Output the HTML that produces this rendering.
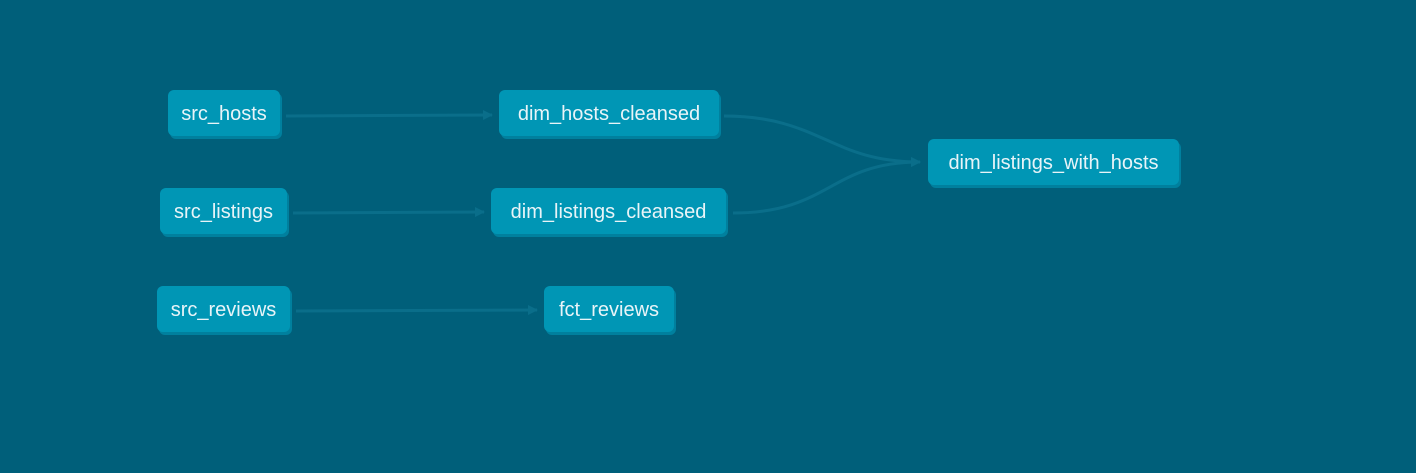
<!DOCTYPE html>
<html><head><style>
body{margin:0;width:1416px;height:473px;background:#005f7a;position:relative;overflow:hidden;font-family:"Liberation Sans",sans-serif}
.n{position:absolute;height:46px;line-height:49px;background:#0096b5;color:#e8f4f8;border-radius:6px;box-shadow:2px 3px 0 #00809e;font-size:20px;text-align:center;box-sizing:border-box}
svg{position:absolute;left:0;top:0}
</style></head><body>
<svg width="1416" height="473">
<defs><marker id="a" markerWidth="10" markerHeight="10" refX="9" refY="5" orient="auto" markerUnits="userSpaceOnUse"><path d="M0,0 L10,5 L0,10 z" fill="#0a6e8a"/></marker></defs>
<g stroke="#0a6e8a" stroke-width="3" fill="none" marker-end="url(#a)">
<path d="M286,116 L492,115"/>
<path d="M293,213 L484,212"/>
<path d="M296,311 L537,310"/>
<path d="M724,116 C820,116 830,162 920,162"/>
<path d="M733,213 C830,213 830,162 920,162"/>
</g></svg>
<div class="n" style="left:168px;top:90px;width:112px">src_hosts</div>
<div class="n" style="left:499px;top:90px;width:220px">dim_hosts_cleansed</div>
<div class="n" style="left:928px;top:139px;width:251px">dim_listings_with_hosts</div>
<div class="n" style="left:160px;top:188px;width:127px">src_listings</div>
<div class="n" style="left:491px;top:188px;width:235px">dim_listings_cleansed</div>
<div class="n" style="left:157px;top:286px;width:133px">src_reviews</div>
<div class="n" style="left:544px;top:286px;width:130px">fct_reviews</div>
</body></html>
